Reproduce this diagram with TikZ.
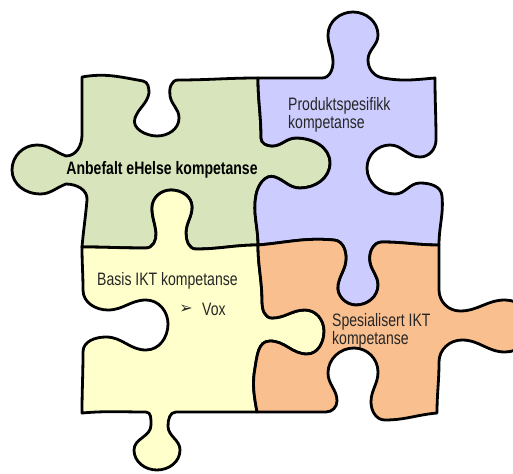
\documentclass[tikz,border=0pt]{standalone}
\usepackage{fontspec}
\setmainfont{Liberation Sans}[FakeStretch=0.78]
\newfontfamily\arrowfont{DejaVu Sans}
\usepackage{tikz}

\definecolor{pieceGreen}{RGB}{215,228,188}
\definecolor{piecePurple}{RGB}{204,204,255}
\definecolor{pieceYellow}{RGB}{255,255,204}
\definecolor{pieceOrange}{RGB}{250,191,143}

\begin{document}
\begin{tikzpicture}[
    x=1pt, y=-1pt,
    piece/.style={draw=black, line width=2.8pt, line join=round},
    piecetext/.style={font=\fontsize{18}{18}\selectfont, text=black!85, inner sep=0pt, align=left},
    % shared seams, all run from T down to C, from C out to L and R, from B up to C
    seam upper/.style={insert path={
        to[out=-90,in=90] (261,138) to[out=-90,in=180] (272,146)
        to[out=0,in=180] (296,138) to[out=0,in=90] (330,163)
        to[out=-90,in=0] (300,188) to[out=180,in=-20] (275,177)
        to[out=160,in=80] (256,195) to[out=-100,in=90] (C)}},
    seam left/.style={insert path={
        to[out=180,in=0] (196,249) to[out=180,in=-90] (186,233)
        to[out=90,in=-90] (192,207) to[out=90,in=0] (171,190)
        to[out=180,in=90] (152,208) to[out=-90,in=95] (156,233)
        to[out=-85,in=0] (146,248) to[out=180,in=0] (L)}},
    seam right/.style={insert path={
        to[out=5,in=175] (334,240) to[out=-5,in=90] (346,258)
        to[out=-90,in=80] (338,285) to[out=-100,in=180] (356,305)
        to[out=0,in=-90] (378,285) to[out=90,in=-80] (370,262)
        to[out=100,in=180] (382,242) to[out=0,in=180] (R)}},
    seam lower/.style={insert path={
        to[out=100,in=-100] (255,368) to[out=80,in=180] (270,341)
        to[out=0,in=180] (307,354) to[out=0,in=-90] (324,331)
        to[out=90,in=0] (305,310) to[out=180,in=0] (272,318)
        to[out=180,in=-90] (262,302) to[out=90,in=-90] (C)}},
]
    \useasboundingbox (0,0) rectangle (513,473);
    \clip (0,0) rectangle (513,473);

    \coordinate (T) at (258,78);
    \coordinate (C) at (258,245);
    \coordinate (B) at (257,412);
    \coordinate (L) at (82,247);
    \coordinate (R) at (439,245);

    % green, top left
    \path[piece, fill=pieceGreen] (T) [seam upper] [seam left]
        to[out=85,in=-95] (87,200) to[out=85,in=0] (66,184)
        to[out=200,in=0] (40,194) to[out=180,in=-90] (12,170)
        to[out=90,in=180] (37,145) to[out=0,in=160] (66,156)
        to[out=0,in=-90] (82,135) to[out=90,in=-90] (82,77)
        to[out=10,in=170] (143,81) to[out=-10,in=90] (149,93)
        to[out=-100,in=70] (135,118) to[out=-110,in=180] (157,136)
        to[out=0,in=-90] (179,118) to[out=90,in=-80] (170,96)
        to[out=100,in=180] (178,80) to[out=0,in=180] (T) -- cycle;

    % purple, top right
    \path[piece, fill=piecePurple] (T) [seam upper] [seam right]
        to[out=90,in=-85] (442,196) to[out=95,in=0] (420,183)
        to[out=180,in=0] (395,194) to[out=180,in=-90] (367,168)
        to[out=90,in=180] (390,145) to[out=0,in=180] (420,157)
        to[out=0,in=-90] (436,140) to[out=90,in=-90] (435,78)
        to[out=185,in=-10] (383,78) to[out=170,in=-90] (368,60)
        to[out=90,in=-90] (378,35) to[out=90,in=0] (353,12)
        to[out=180,in=90] (328,35) to[out=-90,in=90] (333,62)
        to[out=-90,in=0] (322,78) to[out=180,in=0] (T) -- cycle;

    % yellow, bottom left
    \path[piece, fill=pieceYellow] (B) [seam lower] [seam left]
        to[out=-90,in=90] (83,290) to[out=-90,in=180] (108,310)
        to[out=0,in=180] (146,300) to[out=0,in=90] (168,324)
        to[out=-90,in=0] (146,350) to[out=180,in=0] (106,337)
        to[out=180,in=90] (83,352) to[out=-90,in=90] (82,413)
        to[out=5,in=180] (146,412) to[out=0,in=90] (151,425)
        to[out=-90,in=90] (134,450) to[out=-90,in=180] (157,470)
        to[out=0,in=-90] (180,450) to[out=90,in=-90] (168,426)
        to[out=90,in=180] (176,412) to[out=0,in=180] (B) -- cycle;

    % orange, bottom right
    \path[piece, fill=pieceOrange] (B) [seam lower] [seam right]
        to[out=-90,in=90] (439,290) to[out=-90,in=180] (460,311)
        to[out=0,in=180] (505,300) to[out=0,in=90] (532,326)
        to[out=-90,in=0] (505,352) to[out=180,in=0] (462,340)
        to[out=180,in=90] (439,362) to[out=-90,in=90] (437,413)
        to[out=185,in=0] (385,420) to[out=180,in=-90] (371,402)
        to[out=90,in=-90] (378,372) to[out=90,in=0] (354,348)
        to[out=180,in=90] (328,373) to[out=-90,in=90] (337,401)
        to[out=-90,in=0] (326,412) to[out=180,in=0] (B) -- cycle;

    \node[piecetext, font=\fontsize{18}{18}\selectfont\bfseries, text=black, anchor=base] (recommended) at (162,175) {Anbefalt eHelse kompetanse};
    \node[piecetext, anchor=north west] (product) at (288,97) {Produktspesifikk\\kompetanse};
    \node[piecetext, anchor=base west] (basic) at (97,285) {Basis IKT kompetanse};
    \node[piecetext, font=\arrowfont\fontsize{16}{16}\selectfont, anchor=center] (voxbullet) at (186,309) {➢};
    \node[piecetext, anchor=base west] (vox) at (202,315) {Vox};
    \node[piecetext, anchor=north west] (special) at (332,313) {Spesialisert IKT\\kompetanse};
\end{tikzpicture}
\end{document}
